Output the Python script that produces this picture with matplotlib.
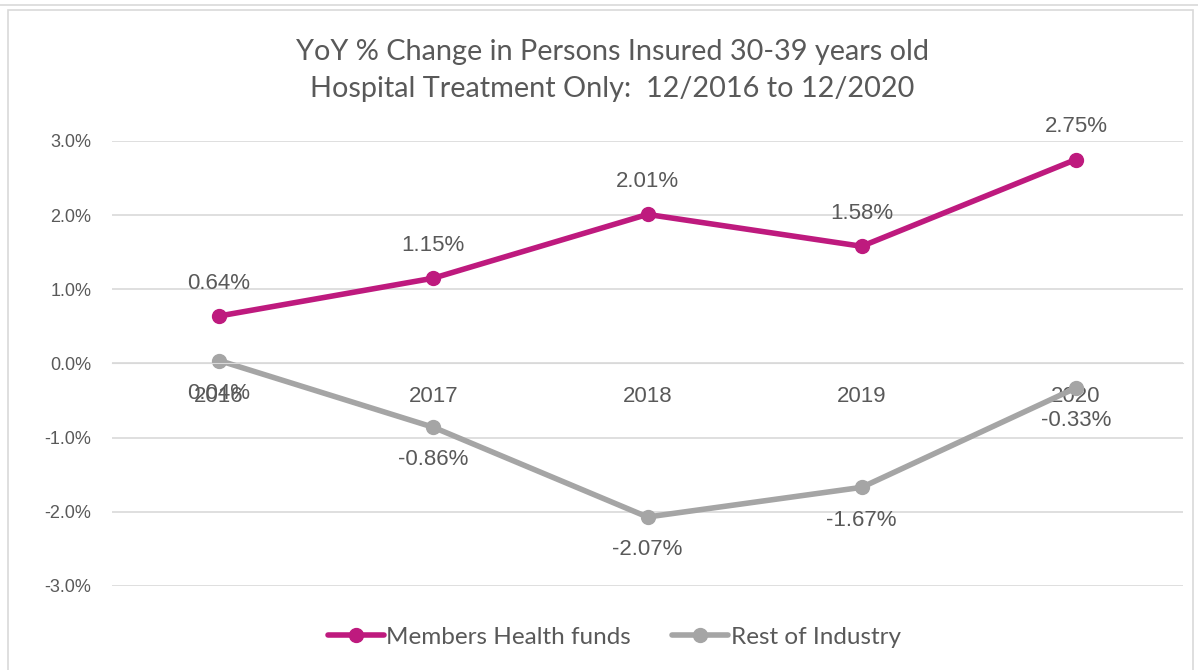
import matplotlib.pyplot as plt
from matplotlib.patches import Rectangle
from matplotlib.lines import Line2D

years = ["2016", "2017", "2018", "2019", "2020"]
members = [0.64, 1.15, 2.01, 1.58, 2.75]
rest = [0.04, -0.86, -2.07, -1.67, -0.33]
yticks = [-3.0, -2.0, -1.0, 0.0, 1.0, 2.0, 3.0]

pink = "#BE1A7E"
grey = "#A5A5A5"
txt = "#595959"

fig = plt.figure(figsize=(11.98, 6.7), dpi=100)
ax = fig.add_axes([0.0935, 0.1254, 0.894, 0.6642])

# chart frame
fig.patches.append(Rectangle((0.007, -0.01), 0.989, 0.995, transform=fig.transFigure,
                             fill=False, edgecolor="#D9D9D9", linewidth=1.2))
fig.add_artist(Line2D([0, 1], [0.993, 0.993], color="#D9D9D9", linewidth=1.2))

# spine position first, it resets the ticks
for s in ["top", "right", "left"]:
    ax.spines[s].set_visible(False)
ax.spines["bottom"].set_position(("data", 0))
ax.spines["bottom"].set_color("#D9D9D9")

x = list(range(len(years)))
ax.plot(x, members, color=pink, linewidth=4, marker="o", markersize=10,
        label="Members Health funds", solid_capstyle="round")
ax.plot(x, rest, color=grey, linewidth=4, marker="o", markersize=10,
        label="Rest of Industry", solid_capstyle="round")

for i, v in enumerate(members):
    ax.annotate(f"{v:.2f}%", (i, v), xytext=(0, 16), textcoords="offset points",
                ha="center", va="bottom", fontsize=16, color=txt,
                family="Liberation Sans")
for i, v in enumerate(rest):
    ax.annotate(f"{v:.2f}%", (i, v), xytext=(0, -16), textcoords="offset points",
                ha="center", va="top", fontsize=16, color=txt,
                family="Liberation Sans")

ax.set_xlim(-0.5, 4.5)
ax.set_ylim(-3, 3)
ax.set_yticks(yticks)
ax.set_yticklabels([f"{t:.1f}%" for t in yticks], fontsize=13, color=txt,
                   family="Liberation Sans")
ax.set_xticks(x)
ax.set_xticklabels(years, fontsize=16, color=txt, family="Liberation Sans")
ax.grid(axis="y", color="#D9D9D9", linewidth=1.2)
ax.set_axisbelow(True)
ax.tick_params(axis="both", length=0)
ax.tick_params(axis="x", pad=16)
ax.tick_params(axis="y", pad=15)

fig.text(0.511, 0.895, "YoY % Change in Persons Insured 30-39 years old\nHospital Treatment Only:  12/2016 to 12/2020",
         ha="center", va="center", fontsize=20.8, color=txt, family="Lato",
         linespacing=1.55)

ax.legend(loc="center", bbox_to_anchor=(0.469, -0.115), ncol=2, frameon=False,
          prop={"family": "Lato", "size": 17.5}, labelcolor=txt,
          handlelength=2.3, handletextpad=0.1, columnspacing=1.7)

fig.savefig("out.png", dpi=100)
